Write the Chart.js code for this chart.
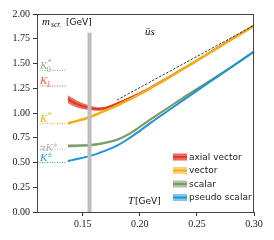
<!DOCTYPE html>
<html>
<head>
<meta charset="utf-8">
<script src="https://cdn.jsdelivr.net/npm/chart.js@4"></script>
<style>
  html, body { margin: 0; padding: 0; background: #fff; }
  #chart { display: block; }
</style>
</head>
<body>
<canvas id="chart" width="274" height="240"></canvas>
<script>
// temperature grid [GeV]
const T = [0.137, 0.145, 0.155, 0.163, 0.17, 0.18, 0.19, 0.2, 0.21, 0.225, 0.24, 0.26, 0.28, 0.3];

// screening masses [GeV]
const axialVector    = [1.14, 1.09, 1.055, 1.04, 1.05, 1.095, 1.145, 1.2, 1.26, 1.36, 1.46, 1.6, 1.745, 1.885];
const axialVectorErr = [0.04, 0.035, 0.025, 0.018, 0.014, 0.011, 0.009, 0.008, 0.007, 0.006, 0.006, 0.006, 0.006, 0.006];
const vector         = [0.895, 0.92, 0.955, 0.99, 1.025, 1.075, 1.13, 1.19, 1.255, 1.355, 1.46, 1.6, 1.74, 1.88];
const vectorErr      = [0.006, 0.006, 0.006, 0.006, 0.006, 0.006, 0.005, 0.005, 0.005, 0.005, 0.005, 0.005, 0.005, 0.005];
const scalar         = [0.667, 0.67, 0.675, 0.685, 0.7, 0.73, 0.785, 0.86, 0.94, 1.055, 1.17, 1.315, 1.465, 1.62];
const scalarErr      = [0.016, 0.015, 0.014, 0.013, 0.012, 0.011, 0.01, 0.009, 0.008, 0.007, 0.007, 0.007, 0.007, 0.007];
const pseudoScalar   = [0.515, 0.535, 0.562, 0.59, 0.62, 0.67, 0.74, 0.82, 0.905, 1.025, 1.145, 1.305, 1.46, 1.62];
const pseudoScalarErr= [0.004, 0.004, 0.004, 0.004, 0.004, 0.004, 0.004, 0.004, 0.004, 0.004, 0.004, 0.004, 0.004, 0.004];

const seriesLabels = ['axial vector', 'vector', 'scalar', 'pseudo scalar'];

// vacuum masses (dotted reference lines at low T)
const vacuumNames  = ['K0*', 'K1', 'K*', 'piK', 'K'];
const vacuumMasses = [1.43, 1.273, 0.895, 0.635, 0.5];
const vacuumT      = [0.11, 0.135];

// free theory limit 2*pi*T (dashed)
const freeT    = [0.18, 0.3];
const freeMass = [1.131, 1.885];

// pseudo-critical temperature band
const tcT    = [0.156, 0.156];
const tcMass = [0, 1.81];

const xTicks = [0.15, 0.2, 0.25, 0.3];

const lineColors = ['#e23a26', '#efb01c', '#7d9a69', '#1f93d3'];
const fillColors = ['rgba(226,58,38,0.75)', 'rgba(239,176,28,0.55)', 'rgba(125,154,105,0.6)', 'rgba(31,147,211,0.55)'];
const vacuumColors = ['#93b07f', '#e85a48', '#efb01c', '#b0b0b0', '#2b9ad6'];

const pts = (xs, ys) => xs.map((x, i) => ({ x: x, y: ys[i] }));

const curves = [
  [axialVector, axialVectorErr, 2],
  [vector, vectorErr, 2.5],
  [scalar, scalarErr, 2],
  [pseudoScalar, pseudoScalarErr, 2]
];

const smooth = { cubicInterpolationMode: 'monotone', pointRadius: 0 };

const datasets = [];
// bands and centre lines, later curves on top
curves.forEach(([m, err, lw], k) => {
  const base = 40 - k * 5;
  datasets.push({
    ...smooth,
    data: pts(T, m.map((v, i) => v + err[i])),
    borderWidth: 0, fill: false, order: base + 2
  });
  datasets.push({
    ...smooth,
    data: pts(T, m.map((v, i) => v - err[i])),
    borderWidth: 0, order: base + 1,
    fill: { target: datasets.length - 1 }, backgroundColor: fillColors[k]
  });
  datasets.push({
    ...smooth,
    data: pts(T, m),
    borderColor: lineColors[k], borderWidth: lw, fill: false, order: base
  });
});

vacuumMasses.forEach((m, k) => {
  datasets.push({
    data: pts(vacuumT, [m, m]),
    borderColor: vacuumColors[k], borderWidth: 1, borderDash: [1, 1.5],
    pointRadius: 0, fill: false, order: 3
  });
});

datasets.push({
  data: pts(freeT, freeMass),
  borderColor: '#222', borderWidth: 0.9, borderDash: [2.5, 1.5],
  pointRadius: 0, fill: false, order: 1
});

datasets.push({
  data: pts(tcT, tcMass),
  borderColor: '#bdbdbd', borderWidth: 4, pointRadius: 0, fill: false, order: 2
});

const serif = '"Liberation Serif", "DejaVu Serif", serif';
const sans = '"DejaVu Sans", sans-serif';

function kLabel(ctx, x, y, name, color) {
  ctx.fillStyle = color;
  ctx.textBaseline = 'alphabetic';
  ctx.textAlign = 'left';
  const big = 'italic 11px ' + serif;
  const small = '8px ' + serif;
  let cx = x;
  if (name === 'piK') {
    ctx.font = big;
    ctx.fillText('\u03c0K', cx, y);
    cx += ctx.measureText('\u03c0K').width + 0.5;
    ctx.font = small;
    ctx.fillText('\u00b1', cx, y - 4);
    return;
  }
  ctx.font = big;
  ctx.fillText('K', cx, y);
  cx += ctx.measureText('K').width + 0.5;
  ctx.font = small;
  if (name === 'K0*') {
    ctx.fillText('*', cx, y - 4);
    ctx.fillText('0', cx - 1, y + 3);
  } else if (name === 'K1') {
    ctx.fillText('1', cx - 1, y + 3);
  } else if (name === 'K*') {
    ctx.fillText('*', cx, y - 4);
  } else {
    ctx.fillText('\u00b1', cx, y - 4);
  }
}

const decorations = {
  id: 'decorations',
  afterDraw(chart) {
    const ctx = chart.ctx;
    const a = chart.chartArea;
    const ys = chart.scales.y;
    ctx.save();
    // frame
    ctx.strokeStyle = '#444';
    ctx.lineWidth = 1;
    ctx.strokeRect(a.left + 0.5, a.top + 0.5, a.right - a.left - 1, a.bottom - a.top);

    // vacuum mass labels
    vacuumMasses.forEach((m, k) => {
      const yy = ys.getPixelForValue(m) + (vacuumNames[k] === 'piK' ? 2 : -1.5);
      kLabel(ctx, a.left + 3, yy, vacuumNames[k], vacuumColors[k]);
    });

    // y axis title
    ctx.fillStyle = '#111';
    ctx.textAlign = 'left';
    ctx.font = 'italic 11px ' + serif;
    ctx.fillText('m', a.left + 5, a.top + 11);
    ctx.font = 'italic 7.5px ' + serif;
    ctx.fillText('scr.', a.left + 14, a.top + 13);
    ctx.font = '9px ' + sans;
    ctx.fillText('[GeV]', a.left + 29, a.top + 11);

    // flavour content
    ctx.font = 'italic 11px ' + serif;
    ctx.fillText('\u016bs', 145, a.top + 21);

    // x axis title
    ctx.fillText('T', 128, a.bottom - 8);
    ctx.font = '9px ' + sans;
    ctx.fillText('[GeV]', 135, a.bottom - 8);

    // legend
    const lx = 173, ly0 = 157, dy = 13.5;
    seriesLabels.forEach((lab, k) => {
      const yy = ly0 + k * dy;
      ctx.fillStyle = fillColors[k];
      ctx.fillRect(lx, yy - 3.5, 14, 7);
      ctx.strokeStyle = lineColors[k];
      ctx.lineWidth = 2;
      ctx.beginPath();
      ctx.moveTo(lx, yy);
      ctx.lineTo(lx + 14, yy);
      ctx.stroke();
      ctx.fillStyle = '#222';
      ctx.font = '9px ' + sans;
      ctx.textBaseline = 'middle';
      ctx.fillText(lab, lx + 16, yy + 0.5);
      ctx.textBaseline = 'alphabetic';
    });
    ctx.restore();
  }
};

new Chart(document.getElementById('chart'), {
  type: 'line',
  data: { datasets: datasets },
  options: {
    responsive: false,
    animation: false,
    layout: { padding: { top: 14, right: 20, left: 0, bottom: 0 } },
    plugins: { legend: { display: false }, tooltip: { enabled: false } },
    scales: {
      x: {
        type: 'linear', min: 0.11, max: 0.3,
        afterBuildTicks: axis => { axis.ticks = xTicks.map(v => ({ value: v })); },
        afterFit: s => { s.height = 28; },
        grid: { drawOnChartArea: false, drawTicks: true, tickLength: 4, color: '#333' },
        border: { display: true, color: '#444', width: 1 },
        ticks: {
          color: '#222', padding: 2, maxRotation: 0,
          font: { family: serif, size: 10 },
          callback: v => Number(v).toFixed(2)
        }
      },
      y: {
        min: 0, max: 2,
        afterFit: s => { s.width = 37; },
        grid: { drawOnChartArea: false, drawTicks: true, tickLength: 4, color: '#333' },
        border: { display: true, color: '#444', width: 1 },
        ticks: {
          color: '#222', padding: 3, stepSize: 0.25,
          font: { family: serif, size: 10 },
          callback: v => Number(v).toFixed(2)
        }
      }
    }
  },
  plugins: [decorations]
});
</script>
</body>
</html>
